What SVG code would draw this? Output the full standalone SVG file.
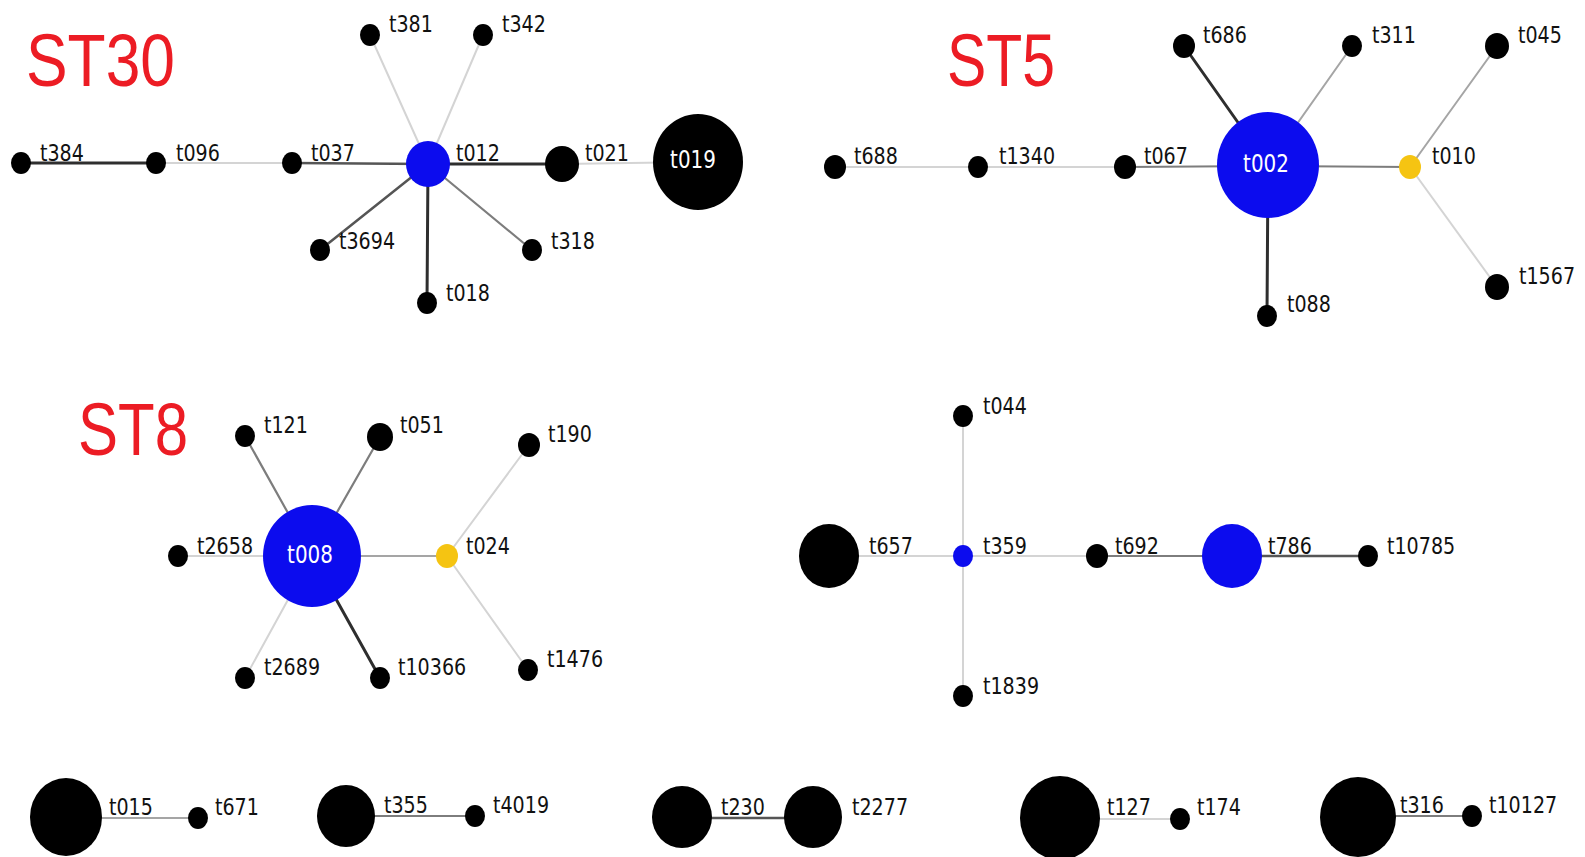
<svg xmlns="http://www.w3.org/2000/svg" width="1585" height="857" viewBox="0 0 1585 857">
<style>
.lb{font-family:"DejaVu Sans",Verdana,sans-serif;font-size:23px;fill:#111;transform-box:fill-box;transform-origin:0 0;transform:scaleX(0.83)}
.wl{font-family:"DejaVu Sans",Verdana,sans-serif;font-size:24px;fill:#fff;text-anchor:middle;transform-box:fill-box;transform-origin:50% 50%;transform:scaleX(0.83)}
.st{font-family:"Liberation Sans",Arial,sans-serif;font-size:75px;fill:#ec1c24}
.k{fill:#000}
.b{fill:#0c0cee}
.y{fill:#f5c412}
.e{fill:none;stroke-linecap:round}
.d1{stroke:#2e2e2e;stroke-width:3}
.d2{stroke:#555;stroke-width:2.5}
.d3{stroke:#7d7d7d;stroke-width:2.2}
.d4{stroke:#a5a5a5;stroke-width:2}
.d5{stroke:#d4d4d4;stroke-width:2}
</style>
<rect width="1585" height="857" fill="#fff"/>
<g id="titles">
<text class="st" x="26" y="86" textLength="149" lengthAdjust="spacingAndGlyphs">ST30</text>
<text class="st" x="947" y="86" textLength="108" lengthAdjust="spacingAndGlyphs">ST5</text>
<text class="st" x="78" y="455" textLength="110" lengthAdjust="spacingAndGlyphs">ST8</text>
</g>
<g id="connectors">
<line class="e d1" x1="21" y1="163" x2="156" y2="163"/>
<line class="e d5" x1="156" y1="163" x2="292" y2="163"/>
<line class="e d2" x1="292" y1="163" x2="428" y2="164"/>
<line class="e d1" x1="428" y1="164" x2="562" y2="164"/>
<line class="e d5" x1="562" y1="164" x2="698" y2="162"/>
<line class="e d5" x1="428" y1="164" x2="370" y2="35"/>
<line class="e d5" x1="428" y1="164" x2="483" y2="35"/>
<line class="e d2" x1="428" y1="164" x2="320" y2="250"/>
<line class="e d3" x1="428" y1="164" x2="532" y2="250"/>
<line class="e d1" x1="428" y1="164" x2="427" y2="303"/>
<line class="e d5" x1="835" y1="167" x2="978" y2="167"/>
<line class="e d5" x1="978" y1="167" x2="1125" y2="167"/>
<line class="e d3" x1="1125" y1="167" x2="1268" y2="166"/>
<line class="e d3" x1="1268" y1="166" x2="1410" y2="167"/>
<line class="e d1" x1="1268" y1="165" x2="1184" y2="46"/>
<line class="e d4" x1="1268" y1="165" x2="1352" y2="46"/>
<line class="e d1" x1="1268" y1="165" x2="1267" y2="316"/>
<line class="e d4" x1="1410" y1="167" x2="1497" y2="46"/>
<line class="e d5" x1="1410" y1="167" x2="1497" y2="287"/>
<line class="e d3" x1="312" y1="556" x2="245" y2="436"/>
<line class="e d3" x1="312" y1="556" x2="380" y2="437"/>
<line class="e d5" x1="312" y1="556" x2="178" y2="556"/>
<line class="e d4" x1="312" y1="556" x2="447" y2="556"/>
<line class="e d5" x1="312" y1="556" x2="245" y2="678"/>
<line class="e d1" x1="312" y1="556" x2="380" y2="678"/>
<line class="e d5" x1="447" y1="556" x2="529" y2="445"/>
<line class="e d5" x1="447" y1="556" x2="528" y2="670"/>
<line class="e d5" x1="829" y1="556" x2="963" y2="556"/>
<line class="e d5" x1="963" y1="556" x2="963" y2="416"/>
<line class="e d5" x1="963" y1="556" x2="963" y2="696"/>
<line class="e d5" x1="963" y1="556" x2="1097" y2="556"/>
<line class="e d3" x1="1097" y1="556" x2="1232" y2="556"/>
<line class="e d2" x1="1232" y1="556" x2="1368" y2="556"/>
<line class="e d4" x1="66" y1="818" x2="198" y2="818"/>
<line class="e d3" x1="346" y1="816" x2="475" y2="816"/>
<line class="e d2" x1="682" y1="818" x2="813" y2="818"/>
<line class="e d5" x1="1060" y1="819" x2="1180" y2="819"/>
<line class="e d3" x1="1357" y1="816" x2="1472" y2="816"/>
</g>
<g id="n-t384"><ellipse class="k" cx="21" cy="163" rx="10" ry="11"/><text class="lb" x="40" y="161">t384</text></g>
<g id="n-t096"><ellipse class="k" cx="156" cy="163" rx="10" ry="11"/><text class="lb" x="176" y="161">t096</text></g>
<g id="n-t037"><ellipse class="k" cx="292" cy="163" rx="10" ry="11"/><text class="lb" x="311" y="161">t037</text></g>
<g id="n-t012"><ellipse class="b" cx="428" cy="164" rx="22" ry="23"/><text class="lb" x="456" y="161">t012</text></g>
<g id="n-t021"><ellipse class="k" cx="562" cy="164" rx="17" ry="18"/><text class="lb" x="585" y="161">t021</text></g>
<g id="n-t019"><ellipse class="k" cx="698" cy="162" rx="45" ry="48"/><text class="wl" x="693" y="168">t019</text></g>
<g id="n-t381"><ellipse class="k" cx="370" cy="35" rx="10" ry="11"/><text class="lb" x="389" y="32">t381</text></g>
<g id="n-t342"><ellipse class="k" cx="483" cy="35" rx="10" ry="11"/><text class="lb" x="502" y="32">t342</text></g>
<g id="n-t3694"><ellipse class="k" cx="320" cy="250" rx="10" ry="11"/><text class="lb" x="339" y="249">t3694</text></g>
<g id="n-t318"><ellipse class="k" cx="532" cy="250" rx="10" ry="11"/><text class="lb" x="551" y="249">t318</text></g>
<g id="n-t018"><ellipse class="k" cx="427" cy="303" rx="10" ry="11"/><text class="lb" x="446" y="301">t018</text></g>
<g id="n-t688"><ellipse class="k" cx="835" cy="167" rx="11" ry="12"/><text class="lb" x="854" y="164">t688</text></g>
<g id="n-t1340"><ellipse class="k" cx="978" cy="167" rx="10" ry="11"/><text class="lb" x="999" y="164">t1340</text></g>
<g id="n-t067"><ellipse class="k" cx="1125" cy="167" rx="11" ry="12"/><text class="lb" x="1144" y="164">t067</text></g>
<g id="n-t002"><ellipse class="b" cx="1268" cy="165" rx="51" ry="53"/><text class="wl" x="1266" y="172">t002</text></g>
<g id="n-t010"><ellipse class="y" cx="1410" cy="167" rx="11" ry="12"/><text class="lb" x="1432" y="164">t010</text></g>
<g id="n-t686"><ellipse class="k" cx="1184" cy="46" rx="11" ry="12"/><text class="lb" x="1203" y="43">t686</text></g>
<g id="n-t311"><ellipse class="k" cx="1352" cy="46" rx="10" ry="11"/><text class="lb" x="1372" y="43">t311</text></g>
<g id="n-t045"><ellipse class="k" cx="1497" cy="46" rx="12" ry="13"/><text class="lb" x="1518" y="43">t045</text></g>
<g id="n-t1567"><ellipse class="k" cx="1497" cy="287" rx="12" ry="13"/><text class="lb" x="1519" y="284">t1567</text></g>
<g id="n-t088"><ellipse class="k" cx="1267" cy="316" rx="10" ry="11"/><text class="lb" x="1287" y="312">t088</text></g>
<g id="n-t008"><ellipse class="b" cx="312" cy="556" rx="49" ry="51"/><text class="wl" x="310" y="563">t008</text></g>
<g id="n-t121"><ellipse class="k" cx="245" cy="436" rx="10" ry="11"/><text class="lb" x="264" y="433">t121</text></g>
<g id="n-t051"><ellipse class="k" cx="380" cy="437" rx="13" ry="14"/><text class="lb" x="400" y="433">t051</text></g>
<g id="n-t190"><ellipse class="k" cx="529" cy="445" rx="11" ry="12"/><text class="lb" x="548" y="442">t190</text></g>
<g id="n-t2658"><ellipse class="k" cx="178" cy="556" rx="10" ry="11"/><text class="lb" x="197" y="554">t2658</text></g>
<g id="n-t024"><ellipse class="y" cx="447" cy="556" rx="11" ry="12"/><text class="lb" x="466" y="554">t024</text></g>
<g id="n-t2689"><ellipse class="k" cx="245" cy="678" rx="10" ry="11"/><text class="lb" x="264" y="675">t2689</text></g>
<g id="n-t10366"><ellipse class="k" cx="380" cy="678" rx="10" ry="11"/><text class="lb" x="398" y="675">t10366</text></g>
<g id="n-t1476"><ellipse class="k" cx="528" cy="670" rx="10" ry="11"/><text class="lb" x="547" y="667">t1476</text></g>
<g id="n-t044"><ellipse class="k" cx="963" cy="416" rx="10" ry="11"/><text class="lb" x="983" y="414">t044</text></g>
<g id="n-t657"><ellipse class="k" cx="829" cy="556" rx="30" ry="32"/><text class="lb" x="869" y="554">t657</text></g>
<g id="n-t359"><ellipse class="b" cx="963" cy="556" rx="10" ry="11"/><text class="lb" x="983" y="554">t359</text></g>
<g id="n-t692"><ellipse class="k" cx="1097" cy="556" rx="11" ry="12"/><text class="lb" x="1115" y="554">t692</text></g>
<g id="n-t786"><ellipse class="b" cx="1232" cy="556" rx="30" ry="32"/><text class="lb" x="1268" y="554">t786</text></g>
<g id="n-t10785"><ellipse class="k" cx="1368" cy="556" rx="10" ry="11"/><text class="lb" x="1387" y="554">t10785</text></g>
<g id="n-t1839"><ellipse class="k" cx="963" cy="696" rx="10" ry="11"/><text class="lb" x="983" y="694">t1839</text></g>
<g id="n-t015"><ellipse class="k" cx="66" cy="817" rx="36" ry="39"/><text class="lb" x="109" y="815">t015</text></g>
<g id="n-t671"><ellipse class="k" cx="198" cy="818" rx="10" ry="11"/><text class="lb" x="215" y="815">t671</text></g>
<g id="n-t355"><ellipse class="k" cx="346" cy="816" rx="29" ry="31"/><text class="lb" x="384" y="813">t355</text></g>
<g id="n-t4019"><ellipse class="k" cx="475" cy="816" rx="10" ry="11"/><text class="lb" x="493" y="813">t4019</text></g>
<g id="n-t230"><ellipse class="k" cx="682" cy="817" rx="30" ry="31"/><text class="lb" x="721" y="815">t230</text></g>
<g id="n-t2277"><ellipse class="k" cx="813" cy="817" rx="29" ry="31"/><text class="lb" x="852" y="815">t2277</text></g>
<g id="n-t127"><ellipse class="k" cx="1060" cy="818" rx="40" ry="42"/><text class="lb" x="1107" y="815">t127</text></g>
<g id="n-t174"><ellipse class="k" cx="1180" cy="819" rx="10" ry="11"/><text class="lb" x="1197" y="815">t174</text></g>
<g id="n-t316"><ellipse class="k" cx="1358" cy="817" rx="38" ry="40"/><text class="lb" x="1400" y="813">t316</text></g>
<g id="n-t10127"><ellipse class="k" cx="1472" cy="816" rx="10" ry="11"/><text class="lb" x="1489" y="813">t10127</text></g>
</svg>
